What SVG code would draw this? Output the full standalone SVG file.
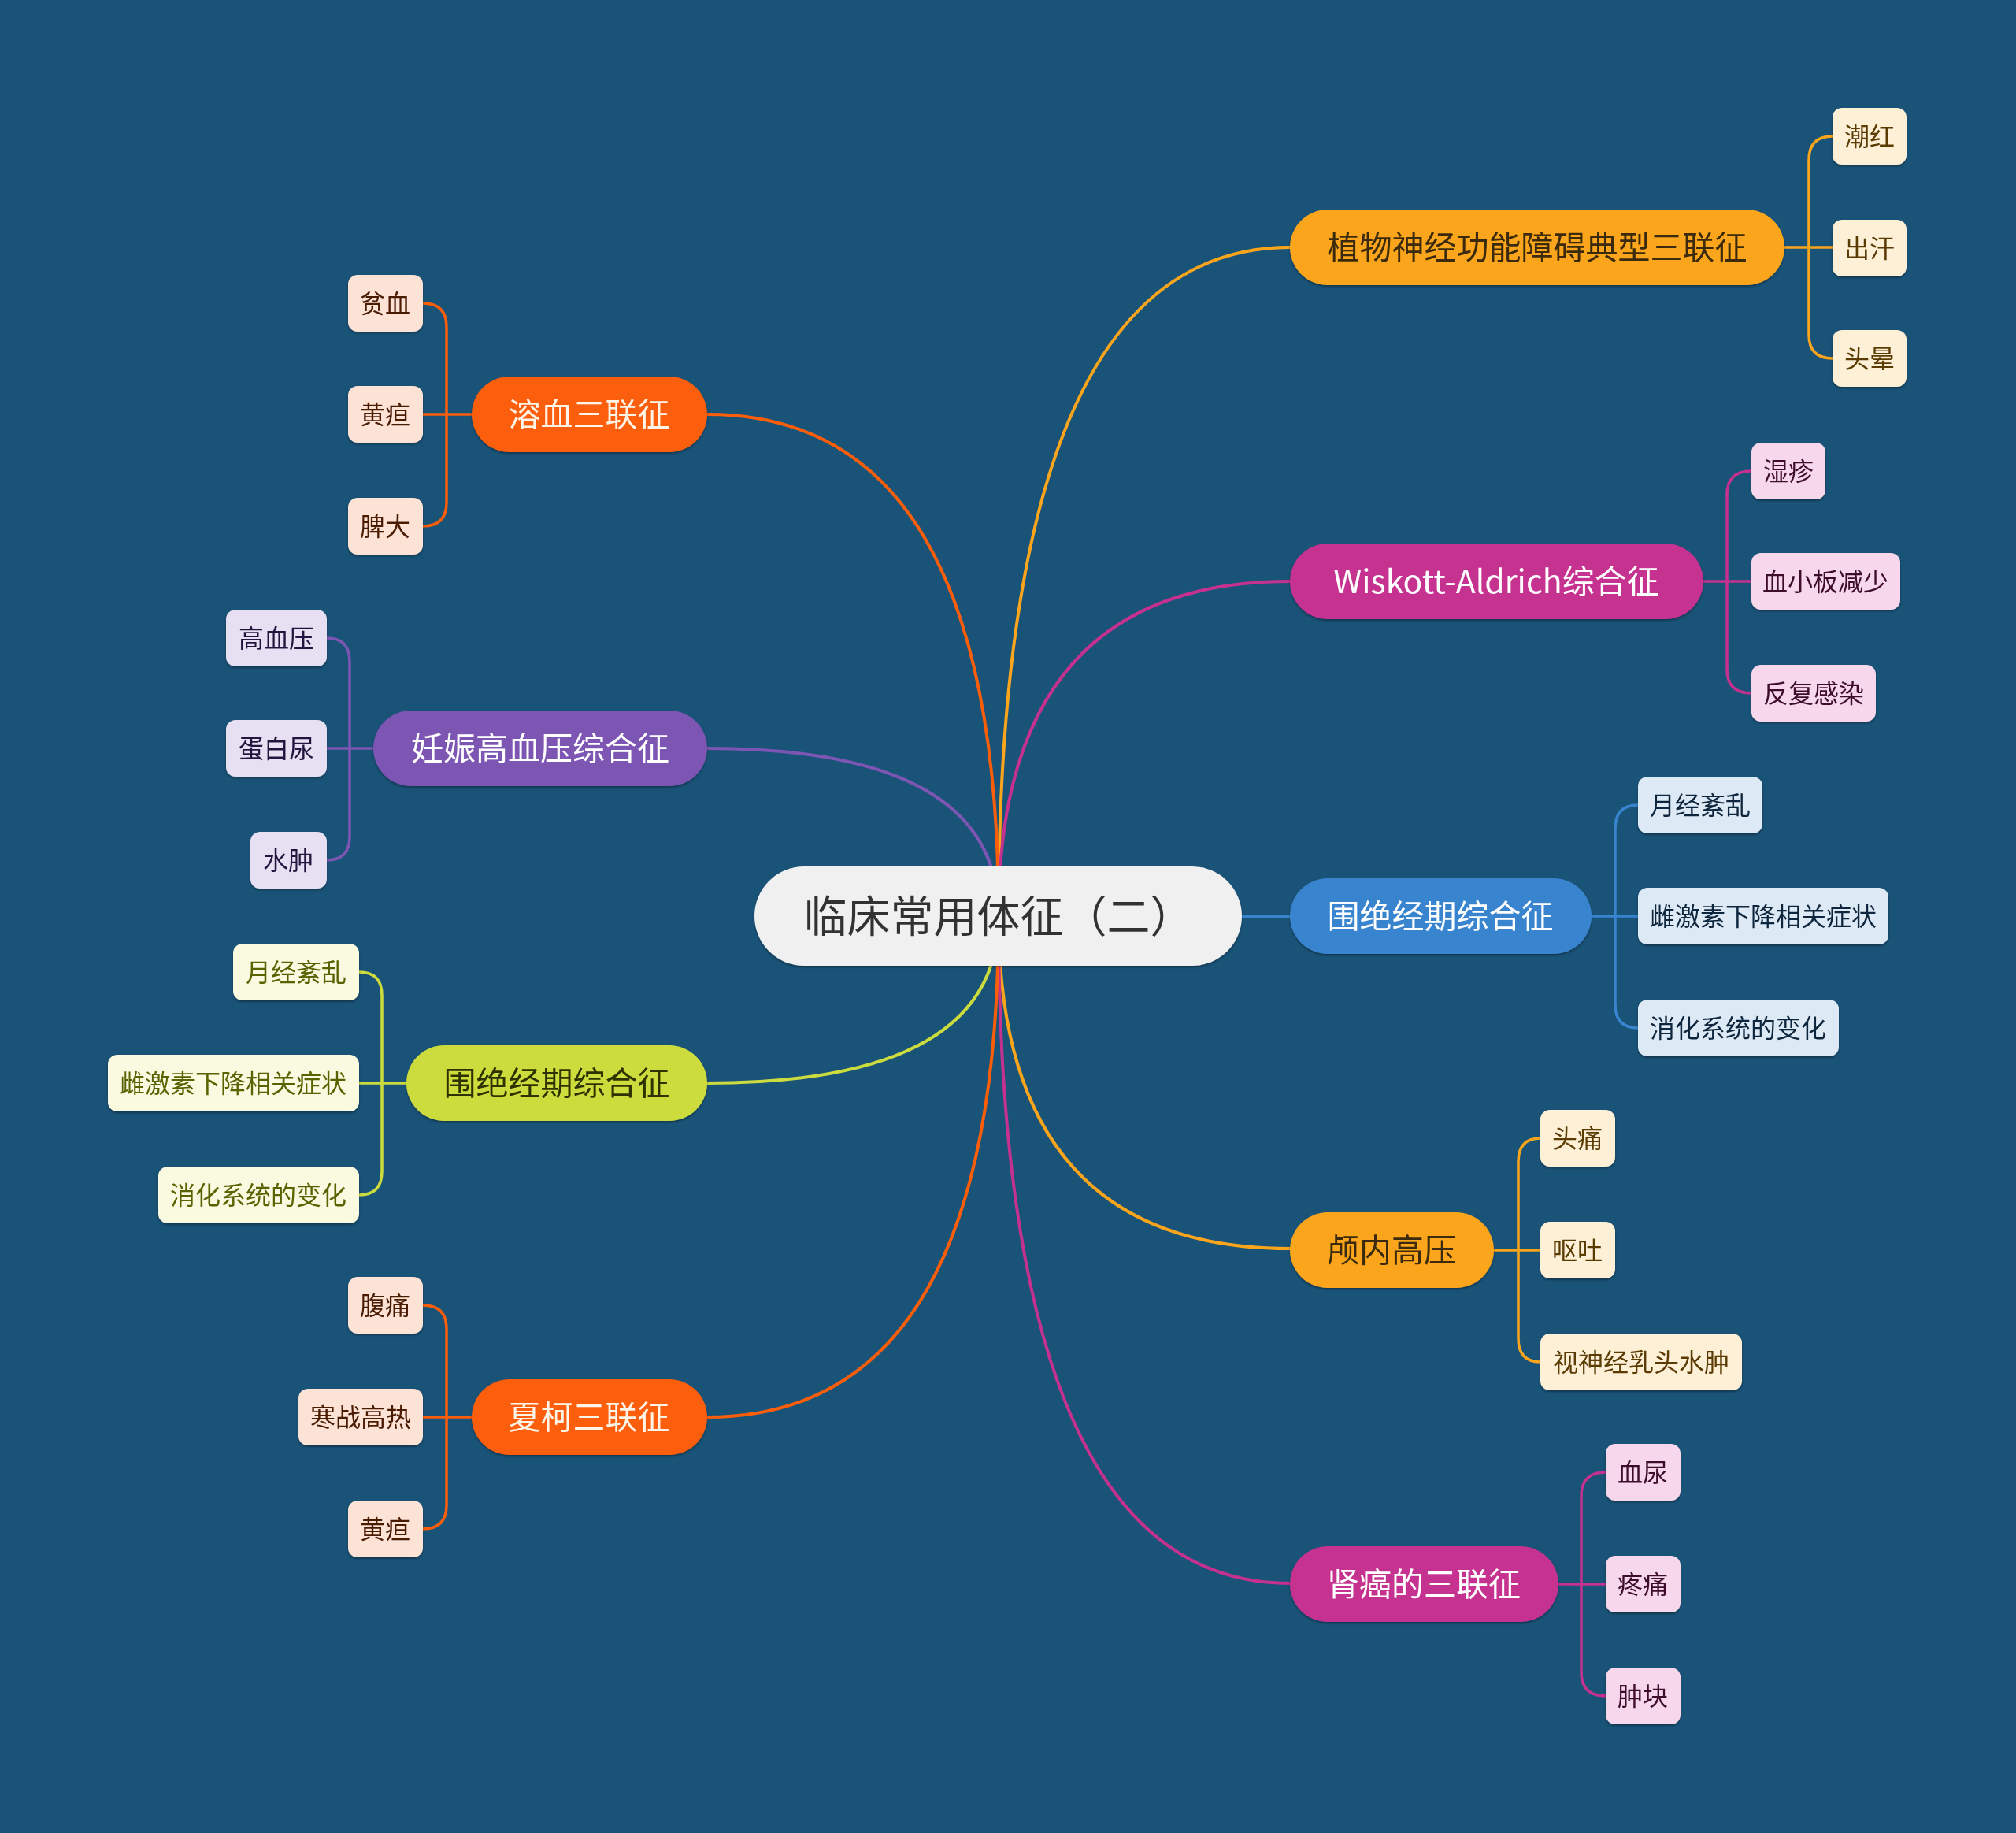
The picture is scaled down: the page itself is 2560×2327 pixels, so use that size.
<svg xmlns="http://www.w3.org/2000/svg" width="2560" height="2327" viewBox="0 0 2560 2327">
<defs>
<style>
text{font-family:"Noto Sans CJK SC","Noto Sans",sans-serif;text-anchor:middle}
.c{fill:none;stroke-width:4;stroke-linecap:round}
.l{fill:none;stroke-width:3.5;stroke-linecap:round}
.main{font-size:41px}
.leaf{font-size:32px}
.sh{filter:url(#sh)}
.or{stroke:#FAA51C}.rd{stroke:#FB5E0A}.mg{stroke:#C5318F}.pu{stroke:#7D56B4}.bl{stroke:#3984CE}.yg{stroke:#CCDC3E}
</style>
<filter id="sh" x="-10%" y="-10%" width="120%" height="130%">
<feDropShadow dx="0" dy="2" stdDeviation="1.5" flood-color="#000" flood-opacity="0.35"/>
</filter>
</defs>
<rect width="2560" height="2327" fill="#1A5378"/>

<g id="connectors">
<path class="c or" d="M1268 1163 Q1268 314 1638 314"/>
<path class="c mg" d="M1268 1163 Q1268 738 1638 738"/>
<path class="c bl" d="M1268 1163 H1638"/>
<path class="c or" d="M1268 1163 Q1268 1585 1638 1585"/>
<path class="c mg" d="M1268 1163 Q1268 2010 1638 2010"/>
<path class="c rd" d="M1268 1163 Q1268 526 898 526"/>
<path class="c pu" d="M1268 1163 Q1268 950 898 950"/>
<path class="c yg" d="M1268 1163 Q1268 1375 898 1375"/>
<path class="c rd" d="M1268 1163 Q1268 1799 898 1799"/>

<path class="l or" d="M2266 314 H2327 M2297 314 V203 Q2297 173 2327 173 M2297 314 V425 Q2297 455 2327 455"/>
<path class="l mg" d="M2163 738 H2224 M2193 738 V628 Q2193 598 2224 598 M2193 738 V850 Q2193 880 2224 880"/>
<path class="l bl" d="M2021 1163 H2080 M2051 1163 V1052 Q2051 1022 2080 1022 M2051 1163 V1275 Q2051 1305 2080 1305"/>
<path class="l or" d="M1897 1587 H1956 M1928 1587 V1475 Q1928 1445 1956 1445 M1928 1587 V1699 Q1928 1729 1956 1729"/>
<path class="l mg" d="M1979 2011 H2039 M2008 2011 V1899 Q2008 1869 2039 1869 M2008 2011 V2123 Q2008 2153 2039 2153"/>
<path class="l rd" d="M599 526 H537 M567 526 V415 Q567 385 537 385 M567 526 V638 Q567 668 537 668"/>
<path class="l pu" d="M474 950 H415 M444 950 V840 Q444 810 415 810 M444 950 V1062 Q444 1092 415 1092"/>
<path class="l yg" d="M516 1375 H456 M485 1375 V1264 Q485 1234 456 1234 M485 1375 V1487 Q485 1517 456 1517"/>
<path class="l rd" d="M599 1799 H537 M567 1799 V1687 Q567 1657 537 1657 M567 1799 V1911 Q567 1941 537 1941"/>
</g>

<g id="root" class="sh"><rect x="958" y="1100" width="619" height="126" rx="63" fill="#F0F0F0"/><text x="1268" y="1183" font-size="55" fill="#333333">临床常用体征（二）</text></g>

<g id="n1" class="sh"><rect x="1638" y="266" width="628" height="96" rx="48" fill="#FAA51C"/><text class="main" x="1952" y="329" fill="#3A2A08">植物神经功能障碍典型三联征</text></g>
<g id="n1a" class="sh"><rect x="2327" y="137" width="94" height="72" rx="12" fill="#FEF0D7"/><text class="leaf" x="2374" y="185" fill="#5A3A06">潮红</text></g>
<g id="n1b" class="sh"><rect x="2327" y="279" width="94" height="72" rx="12" fill="#FEF0D7"/><text class="leaf" x="2374" y="327" fill="#5A3A06">出汗</text></g>
<g id="n1c" class="sh"><rect x="2327" y="419" width="94" height="72" rx="12" fill="#FEF0D7"/><text class="leaf" x="2374" y="467" fill="#5A3A06">头晕</text></g>

<g id="n2" class="sh"><rect x="1638" y="690" width="525" height="96" rx="48" fill="#C5318F"/><text class="main" x="1900" y="753" fill="#FFFFFF">Wiskott-Aldrich综合征</text></g>
<g id="n2a" class="sh"><rect x="2224" y="562" width="94" height="72" rx="12" fill="#F7D7EB"/><text class="leaf" x="2271" y="610" fill="#3D0C2C">湿疹</text></g>
<g id="n2b" class="sh"><rect x="2224" y="702" width="189" height="72" rx="12" fill="#F7D7EB"/><text class="leaf" x="2318" y="750" fill="#3D0C2C">血小板减少</text></g>
<g id="n2c" class="sh"><rect x="2224" y="844" width="158" height="72" rx="12" fill="#F7D7EB"/><text class="leaf" x="2303" y="892" fill="#3D0C2C">反复感染</text></g>

<g id="n3" class="sh"><rect x="1638" y="1115" width="383" height="96" rx="48" fill="#3984CE"/><text class="main" x="1829" y="1178" fill="#FFFFFF">围绝经期综合征</text></g>
<g id="n3a" class="sh"><rect x="2080" y="986" width="158" height="72" rx="12" fill="#DDEAF6"/><text class="leaf" x="2159" y="1034" fill="#10263D">月经紊乱</text></g>
<g id="n3b" class="sh"><rect x="2080" y="1127" width="318" height="72" rx="12" fill="#DDEAF6"/><text class="leaf" x="2239" y="1175" fill="#10263D">雌激素下降相关症状</text></g>
<g id="n3c" class="sh"><rect x="2080" y="1269" width="255" height="72" rx="12" fill="#DDEAF6"/><text class="leaf" x="2207" y="1317" fill="#10263D">消化系统的变化</text></g>

<g id="n4" class="sh"><rect x="1638" y="1539" width="259" height="96" rx="48" fill="#FAA51C"/><text class="main" x="1767" y="1602" fill="#3A2A08">颅内高压</text></g>
<g id="n4a" class="sh"><rect x="1956" y="1409" width="95" height="72" rx="12" fill="#FEF0D7"/><text class="leaf" x="2003" y="1457" fill="#5A3A06">头痛</text></g>
<g id="n4b" class="sh"><rect x="1956" y="1551" width="95" height="72" rx="12" fill="#FEF0D7"/><text class="leaf" x="2003" y="1599" fill="#5A3A06">呕吐</text></g>
<g id="n4c" class="sh"><rect x="1956" y="1693" width="256" height="72" rx="12" fill="#FEF0D7"/><text class="leaf" x="2084" y="1741" fill="#5A3A06">视神经乳头水肿</text></g>

<g id="n5" class="sh"><rect x="1638" y="1963" width="341" height="96" rx="48" fill="#C5318F"/><text class="main" x="1808" y="2026" fill="#FFFFFF">肾癌的三联征</text></g>
<g id="n5a" class="sh"><rect x="2039" y="1833" width="95" height="72" rx="12" fill="#F7D7EB"/><text class="leaf" x="2086" y="1881" fill="#3D0C2C">血尿</text></g>
<g id="n5b" class="sh"><rect x="2039" y="1975" width="95" height="72" rx="12" fill="#F7D7EB"/><text class="leaf" x="2086" y="2023" fill="#3D0C2C">疼痛</text></g>
<g id="n5c" class="sh"><rect x="2039" y="2117" width="95" height="72" rx="12" fill="#F7D7EB"/><text class="leaf" x="2086" y="2165" fill="#3D0C2C">肿块</text></g>

<g id="n6" class="sh"><rect x="599" y="478" width="299" height="96" rx="48" fill="#FB5E0A"/><text class="main" x="748" y="541" fill="#FFF4E8">溶血三联征</text></g>
<g id="n6a" class="sh"><rect x="442" y="349" width="95" height="72" rx="12" fill="#FDE3D5"/><text class="leaf" x="489" y="397" fill="#4A1A06">贫血</text></g>
<g id="n6b" class="sh"><rect x="442" y="490" width="95" height="72" rx="12" fill="#FDE3D5"/><text class="leaf" x="489" y="538" fill="#4A1A06">黄疸</text></g>
<g id="n6c" class="sh"><rect x="442" y="632" width="95" height="72" rx="12" fill="#FDE3D5"/><text class="leaf" x="489" y="680" fill="#4A1A06">脾大</text></g>

<g id="n7" class="sh"><rect x="474" y="902" width="424" height="96" rx="48" fill="#7D56B4"/><text class="main" x="686" y="965" fill="#FFFFFF">妊娠高血压综合征</text></g>
<g id="n7a" class="sh"><rect x="287" y="774" width="128" height="72" rx="12" fill="#E7E0F3"/><text class="leaf" x="351" y="822" fill="#24183F">高血压</text></g>
<g id="n7b" class="sh"><rect x="287" y="914" width="128" height="72" rx="12" fill="#E7E0F3"/><text class="leaf" x="351" y="962" fill="#24183F">蛋白尿</text></g>
<g id="n7c" class="sh"><rect x="318" y="1056" width="97" height="72" rx="12" fill="#E7E0F3"/><text class="leaf" x="366" y="1104" fill="#24183F">水肿</text></g>

<g id="n8" class="sh"><rect x="516" y="1327" width="382" height="96" rx="48" fill="#CCDC3E"/><text class="main" x="707" y="1390" fill="#2E3300">围绝经期综合征</text></g>
<g id="n8a" class="sh"><rect x="296" y="1198" width="160" height="72" rx="12" fill="#FAFAE1"/><text class="leaf" x="376" y="1246" fill="#5A6200">月经紊乱</text></g>
<g id="n8b" class="sh"><rect x="137" y="1339" width="319" height="72" rx="12" fill="#FAFAE1"/><text class="leaf" x="296" y="1387" fill="#5A6200">雌激素下降相关症状</text></g>
<g id="n8c" class="sh"><rect x="201" y="1481" width="255" height="72" rx="12" fill="#FAFAE1"/><text class="leaf" x="328" y="1529" fill="#5A6200">消化系统的变化</text></g>

<g id="n9" class="sh"><rect x="599" y="1751" width="299" height="96" rx="48" fill="#FB5E0A"/><text class="main" x="748" y="1814" fill="#FFF4E8">夏柯三联征</text></g>
<g id="n9a" class="sh"><rect x="442" y="1621" width="95" height="72" rx="12" fill="#FDE3D5"/><text class="leaf" x="489" y="1669" fill="#4A1A06">腹痛</text></g>
<g id="n9b" class="sh"><rect x="379" y="1763" width="158" height="72" rx="12" fill="#FDE3D5"/><text class="leaf" x="458" y="1811" fill="#4A1A06">寒战高热</text></g>
<g id="n9c" class="sh"><rect x="442" y="1905" width="95" height="72" rx="12" fill="#FDE3D5"/><text class="leaf" x="489" y="1953" fill="#4A1A06">黄疸</text></g>
</svg>
